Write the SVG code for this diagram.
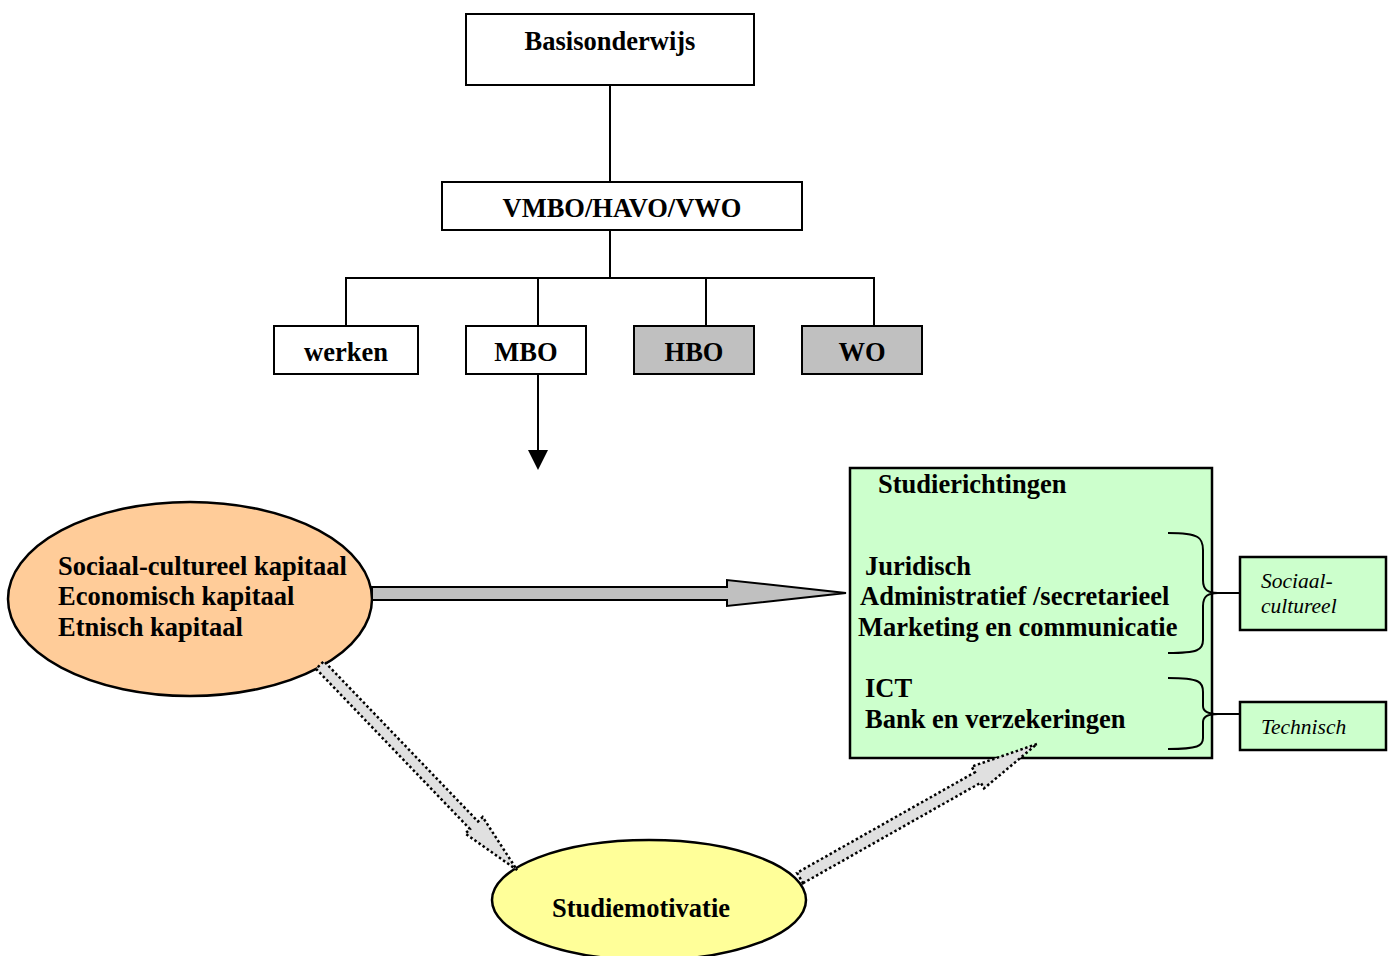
<svg xmlns="http://www.w3.org/2000/svg" width="1394" height="956" viewBox="0 0 1394 956">
<defs>
<style>
.box{fill:#ffffff;stroke:#000;stroke-width:2}
.gray{fill:#c0c0c0;stroke:#000;stroke-width:2}
.green{fill:#ccffcc;stroke:#000;stroke-width:2.5}
.t{font-family:"Liberation Serif","Times New Roman",serif;font-weight:bold;font-size:26.5px;fill:#000}
.it{font-family:"Liberation Serif","Times New Roman",serif;font-style:italic;font-size:21.5px;fill:#000}
.ln{fill:none;stroke:#000;stroke-width:2}
.dot{fill:#e0e0e0;stroke:#000;stroke-width:2.5;stroke-dasharray:2.5 2.5}
</style>
</defs>
<rect width="1394" height="956" fill="#fff"/>

<g id="connectors">
<line class="ln" x1="610" y1="85" x2="610" y2="182"/>
<line class="ln" x1="610" y1="230" x2="610" y2="278"/>
<polyline class="ln" points="346,326 346,278 874,278 874,326"/>
<line class="ln" x1="538" y1="278" x2="538" y2="326"/>
<line class="ln" x1="706" y1="278" x2="706" y2="326"/>
<line class="ln" x1="538" y1="374" x2="538" y2="452"/>
<path d="M528,450 L548,450 L538,470 Z" fill="#000"/>
</g>

<g id="basisonderwijs">
<rect class="box" x="466" y="14" width="288" height="71"/>
<text class="t" x="610" y="50" text-anchor="middle">Basisonderwijs</text>
</g>
<g id="vmbo">
<rect class="box" x="442" y="182" width="360" height="48"/>
<text class="t" x="622" y="217" text-anchor="middle">VMBO/HAVO/VWO</text>
</g>
<g id="werken">
<rect class="box" x="274" y="326" width="144" height="48"/>
<text class="t" x="346" y="361" text-anchor="middle">werken</text>
</g>
<g id="mbo">
<rect class="box" x="466" y="326" width="120" height="48"/>
<text class="t" x="526" y="361" text-anchor="middle">MBO</text>
</g>
<g id="hbo">
<rect class="gray" x="634" y="326" width="120" height="48"/>
<text class="t" x="694" y="361" text-anchor="middle">HBO</text>
</g>
<g id="wo">
<rect class="gray" x="802" y="326" width="120" height="48"/>
<text class="t" x="862" y="361" text-anchor="middle">WO</text>
</g>

<g id="kapitaal">
<ellipse cx="190" cy="599" rx="182" ry="97" fill="#ffcc99" stroke="#000" stroke-width="2.5"/>
<text class="t" x="58" y="575">Sociaal-cultureel kapitaal</text>
<text class="t" x="58" y="605">Economisch kapitaal</text>
<text class="t" x="58" y="636">Etnisch kapitaal</text>
</g>

<g id="studierichtingen">
<rect class="green" x="850" y="468" width="362" height="290"/>
<text class="t" x="878" y="493">Studierichtingen</text>
<text class="t" x="865" y="575">Juridisch</text>
<text class="t" x="860" y="605">Administratief /secretarieel</text>
<text class="t" x="858" y="636">Marketing en communicatie</text>
<text class="t" x="865" y="697">ICT</text>
<text class="t" x="865" y="728">Bank en verzekeringen</text>
</g>

<g id="sociaal-cultureel">
<rect class="green" x="1240" y="557" width="146" height="73" stroke-width="2"/>
<text class="it" x="1261" y="588">Sociaal-</text>
<text class="it" x="1261" y="613">cultureel</text>
</g>
<g id="technisch">
<rect class="green" x="1240" y="702" width="146" height="48" stroke-width="2"/>
<text class="it" x="1261" y="734">Technisch</text>
</g>

<g id="studiemotivatie">
<ellipse cx="649" cy="900" rx="157" ry="60" fill="#ffff99" stroke="#000" stroke-width="2.5"/>
<text class="t" x="641" y="917" text-anchor="middle">Studiemotivatie</text>
</g>

<g id="arrows">
<polygon points="372,587 727,587 727,580 846,593 727,606 727,600 372,600" fill="#c0c0c0" stroke="#000" stroke-width="2"/>
<polygon class="dot" points="316,668.8 470,829.1 465.3,833.6 517,870 482.7,817 478,821.5 324,661.2"/>
<polygon class="dot" points="803,883.2 980.8,782.7 984,788.4 1037,744 971.6,766.6 974.9,772.3 797,872.8"/>
<path class="ln" d="M1168,533 C1200,533 1203,538 1203,550 L1203,580 C1203,590 1208,593 1218,593 L1240,593 M1218,593 C1208,593 1203,596 1203,606 L1203,640 C1203,650 1198,653 1168,653" stroke-width="1.8"/>
<path class="ln" d="M1168,678 C1200,678 1203,682 1203,692 L1203,706 C1203,712 1208,714 1218,714 L1240,714 M1218,714 C1208,714 1203,716 1203,722 L1203,738 C1203,746 1198,749 1168,749" stroke-width="1.8"/>
</g>
</svg>
